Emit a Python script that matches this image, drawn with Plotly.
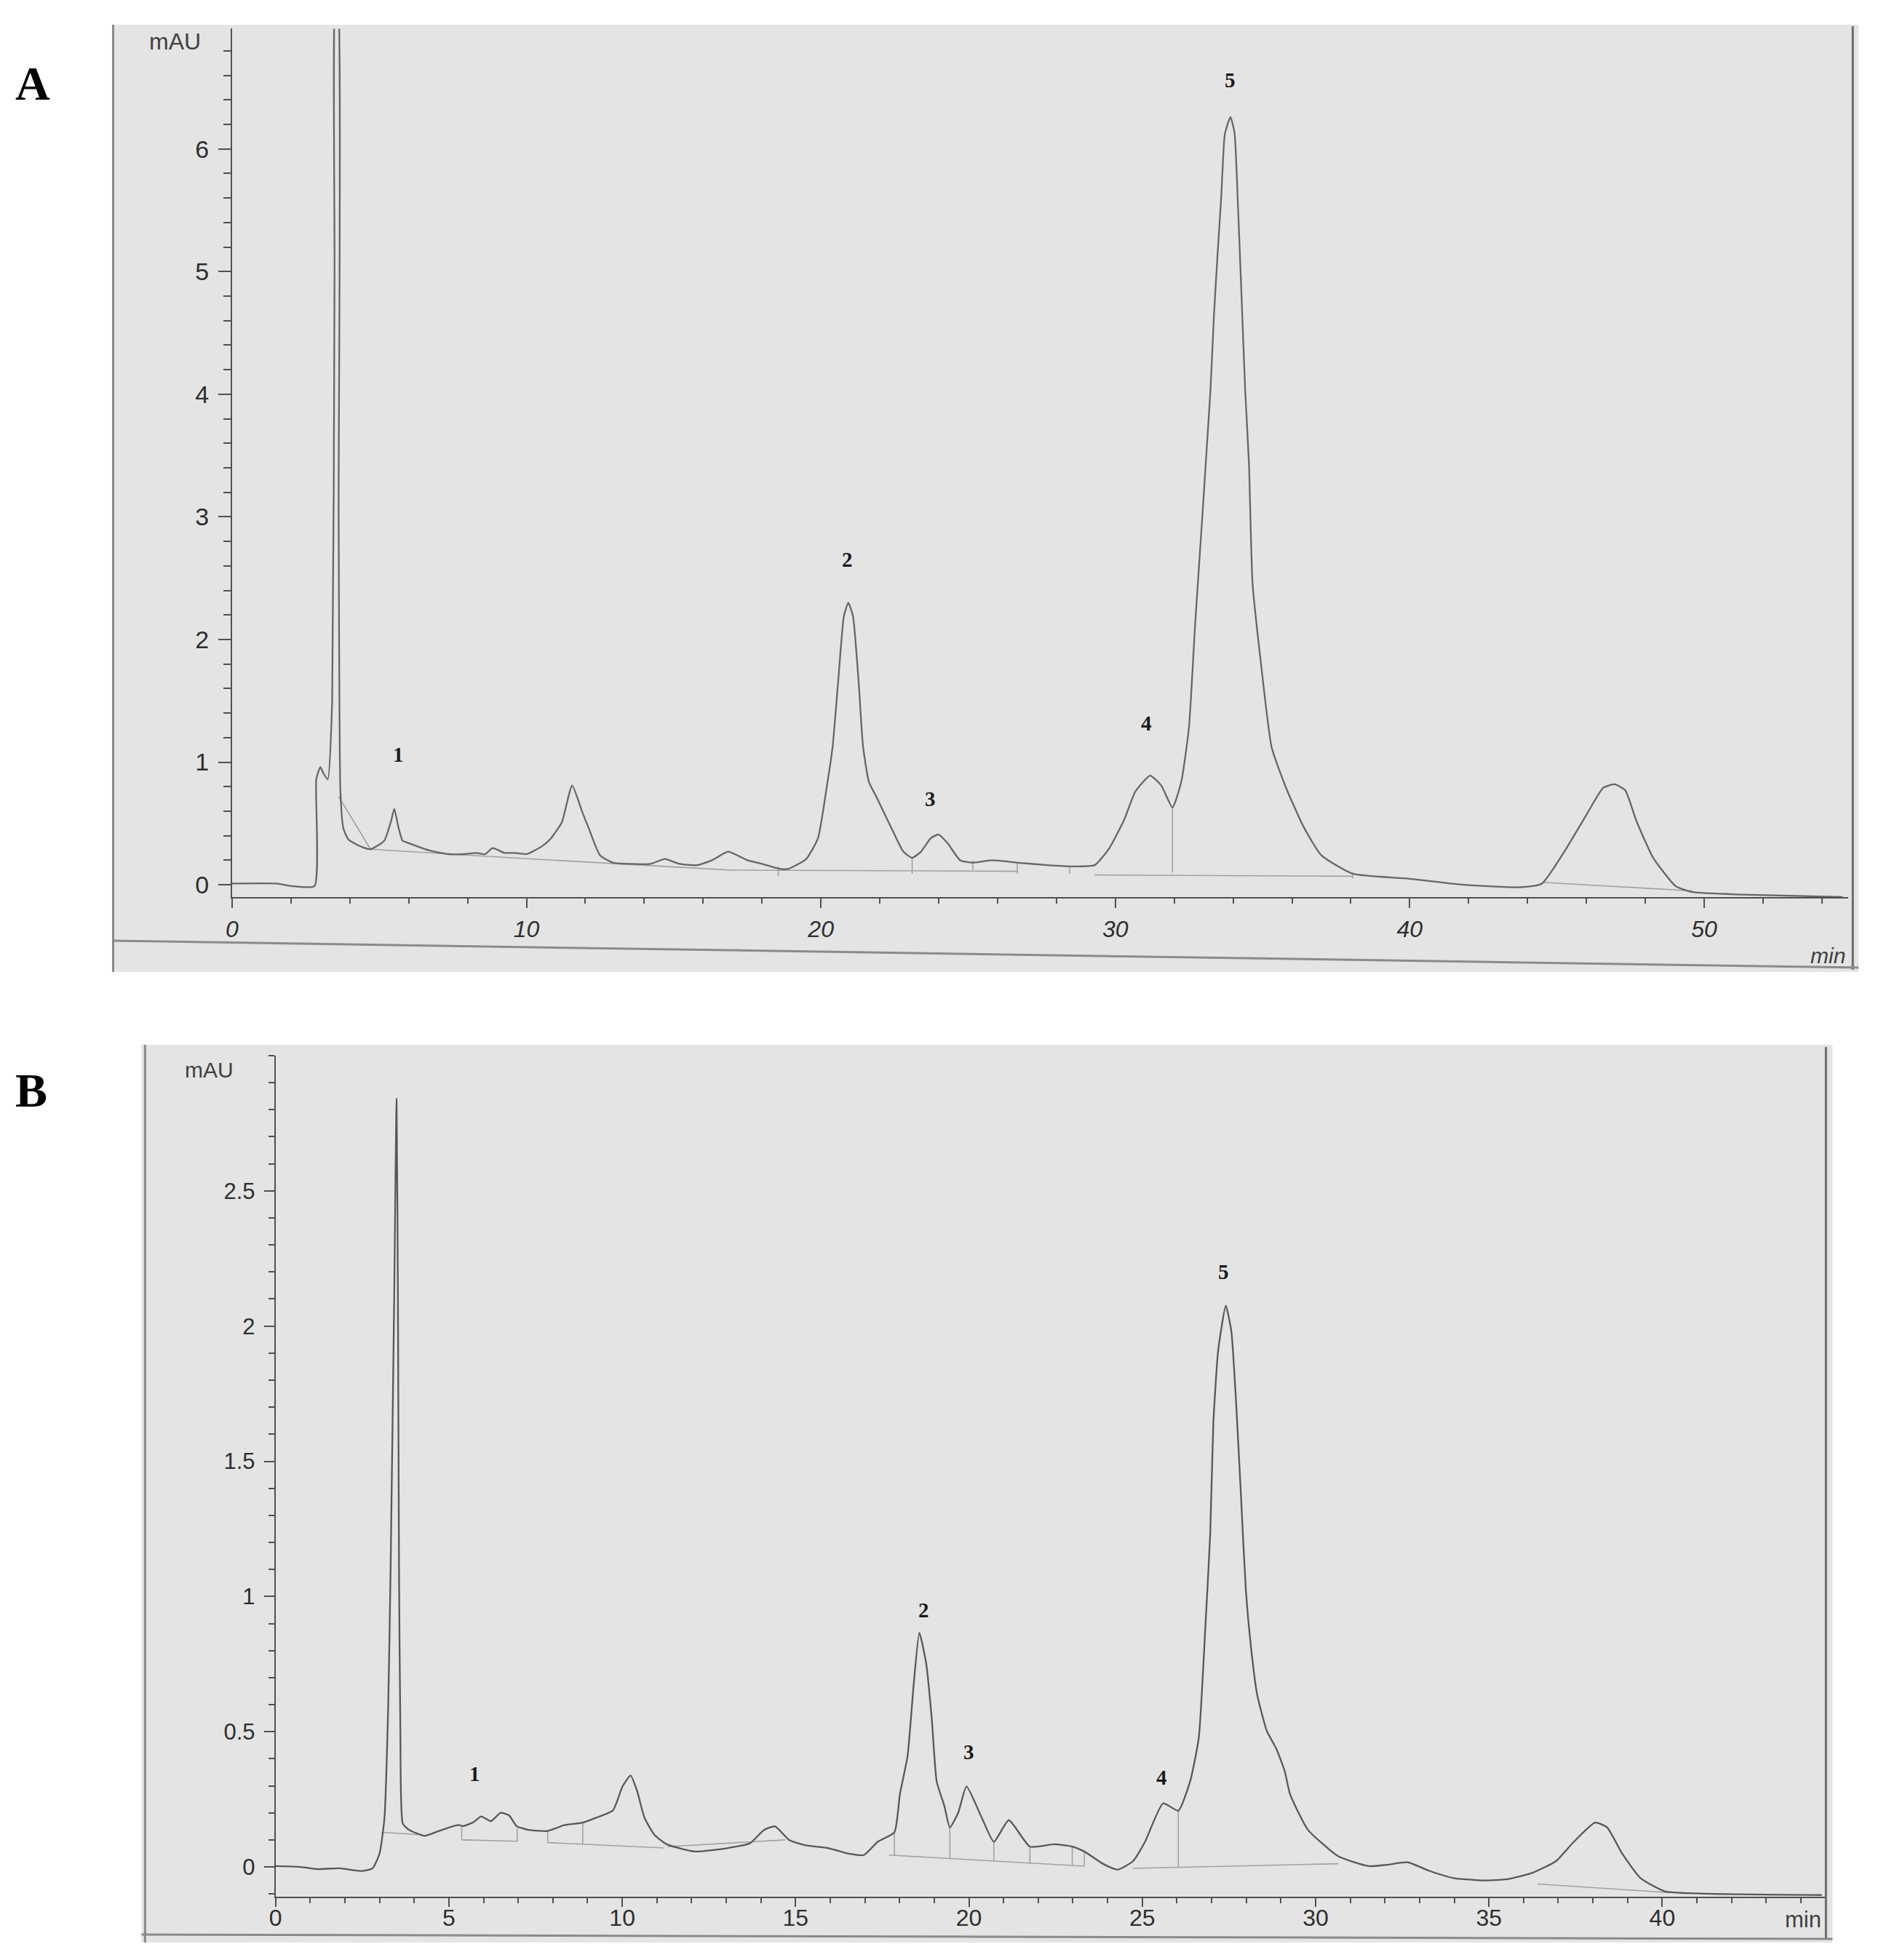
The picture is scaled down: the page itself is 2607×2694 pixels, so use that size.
import plotly.graph_objects as go

# ---------------- Panel A data (time in min, absorbance in mAU) ----------------
a_time = [0.0, 1.5, 2.0, 2.8, 2.86, 3.0, 3.1, 3.25, 3.4, 3.48, 3.52, 3.58, 3.62, 3.68, 3.78,
          3.95, 4.3, 4.7, 5.17, 5.4, 5.51, 5.65, 5.79, 6.0, 6.7, 7.35, 7.9, 8.3, 8.6, 8.85,
          9.25, 9.6, 10.0, 10.5, 10.8, 11.2, 11.55, 11.9, 12.1, 12.5, 12.95, 13.6, 14.2, 14.7,
          15.2, 15.8, 16.3, 16.85, 17.5, 18.0, 18.6, 18.9, 19.5, 19.9, 20.2, 20.4, 20.6, 20.78,
          20.93, 21.09, 21.28, 21.43, 21.63, 21.9, 22.4, 22.8, 23.1, 23.4, 23.73, 24.0, 24.3,
          24.73, 25.16, 25.8, 26.7, 27.7, 28.55, 29.3, 29.8, 30.3, 30.68, 31.18, 31.56, 31.94,
          32.24, 32.5, 32.71, 32.96, 33.1, 33.23, 33.35, 33.47, 33.6, 33.72, 33.91, 34.05,
          34.17, 34.29, 34.41, 34.54, 34.66, 34.94, 35.31, 35.8, 36.4, 37.0, 38.06, 39.95,
          41.84, 43.73, 44.49, 45.25, 46.0, 46.57, 46.95, 47.32, 47.7, 48.27, 49.03, 49.6,
          51.3, 54.7]
a_mau = [0.01, 0.01, -0.01, -0.01, 0.86, 0.96, 0.91, 0.86, 1.5, 5.0, 7.3, 7.3, 3.0, 0.76, 0.46,
         0.37, 0.32, 0.29, 0.36, 0.52, 0.62, 0.47, 0.36, 0.34, 0.28, 0.25, 0.25, 0.26, 0.25, 0.30,
         0.26, 0.26, 0.25, 0.31, 0.37, 0.51, 0.81, 0.59, 0.47, 0.24, 0.18, 0.17, 0.17, 0.21,
         0.17, 0.16, 0.20, 0.27, 0.20, 0.17, 0.13, 0.13, 0.21, 0.38, 0.80, 1.13, 1.70, 2.19,
         2.30, 2.19, 1.66, 1.13, 0.84, 0.71, 0.46, 0.27, 0.22, 0.27, 0.38, 0.41, 0.34,
         0.20, 0.18, 0.20, 0.18, 0.16, 0.15, 0.16, 0.30, 0.53, 0.76, 0.89, 0.81, 0.63,
         0.84, 1.28, 2.12, 3.02, 3.54, 4.03, 4.64, 5.13, 5.62, 6.12, 6.26, 6.13,
         5.51, 4.78, 4.04, 3.43, 2.46, 1.82, 1.12, 0.79, 0.47, 0.24, 0.09, 0.05,
         0.00, -0.02, 0.01, 0.27, 0.57, 0.79, 0.82, 0.77, 0.52, 0.22, -0.01, -0.06,
         -0.08, -0.10]

# integration baselines (segments separated by None)
a_base_t = [3.62, 4.7, None, 4.7, 10.2, 16.9, 26.7, None, 29.3, 38.06, None, 44.5, 49.6]
a_base_v = [0.72, 0.29, None, 0.29, 0.21, 0.12, 0.11, None, 0.08, 0.07, None, 0.02, -0.05]
# peak drop lines
a_drop_t = [18.55, 23.1, 25.16, 26.67, 28.45, 31.94, 38.06]
a_drop_top = [0.15, 0.22, 0.20, 0.18, 0.15, 0.64, 0.10]
a_drop_bot = [0.07, 0.09, 0.12, 0.09, 0.09, 0.10, 0.05]

a_peak_names = ["1", "2", "3", "4", "5"]
a_peak_t = [5.65, 20.9, 23.72, 31.05, 33.91]
a_peak_v = [1.06, 2.65, 0.70, 1.32, 6.56]

a_xticks = [0, 10, 20, 30, 40, 50]
a_yticks = [0, 1, 2, 3, 4, 5, 6]

# ---------------- Panel B data ----------------
b_time = [0.0, 0.72, 1.2, 1.84, 2.48, 2.8, 3.0, 3.14, 3.25, 3.32, 3.42, 3.49, 3.53, 3.56, 3.6,
          3.67, 3.85, 4.3, 4.71, 5.27, 5.41, 5.69, 5.93, 6.21, 6.49, 6.74, 6.95, 7.29, 7.85,
          8.34, 8.86, 9.25, 9.73, 10.01, 10.24, 10.43, 10.64, 10.92, 11.28, 12.09, 13.05,
          13.69, 14.09, 14.41, 14.81, 15.29, 15.93, 16.57, 16.97, 17.37, 17.85, 18.01, 18.23,
          18.41, 18.57, 18.77, 18.93, 19.07, 19.29, 19.45, 19.69, 19.93, 20.37, 20.72, 21.15,
          21.76, 22.46, 22.98, 23.33, 23.86, 24.29, 24.73, 25.08, 25.6, 26.04, 26.38, 26.63,
          26.82, 26.96, 27.05, 27.19, 27.41, 27.57, 27.71, 27.85, 27.99, 28.13, 28.31, 28.59,
          28.87, 29.11, 29.26, 29.78, 30.66, 31.53, 32.05, 32.66, 33.27, 33.97, 34.84, 35.54,
          36.23, 36.93, 37.45, 38.06, 38.41, 38.85, 39.37, 40.07, 41.29, 44.6]
b_mau = [0.003, 0.0, -0.008, -0.005, -0.015, -0.005, 0.05, 0.18, 0.6, 1.12, 2.09, 2.84, 2.09,
         1.12, 0.5, 0.16, 0.137, 0.115, 0.133, 0.155, 0.151, 0.164, 0.187, 0.169, 0.200, 0.19,
         0.151, 0.137, 0.133, 0.155, 0.164, 0.182, 0.209, 0.298, 0.338, 0.28, 0.182, 0.12,
         0.084, 0.057, 0.07, 0.088, 0.137, 0.15, 0.1, 0.08, 0.07, 0.048, 0.044, 0.093, 0.128,
         0.27, 0.41, 0.68, 0.866, 0.75, 0.545, 0.316, 0.226, 0.146, 0.2, 0.298, 0.182, 0.093,
         0.173, 0.075, 0.084, 0.075, 0.057, 0.012, -0.01, 0.021, 0.093, 0.235, 0.208, 0.316,
         0.477, 0.887, 1.23, 1.64, 1.91, 2.075, 1.98, 1.71, 1.365, 1.02, 0.82, 0.64, 0.504,
         0.436, 0.354, 0.27, 0.137, 0.039, 0.003, 0.008, 0.017, -0.014, -0.041, -0.05, -0.045,
         -0.023, 0.021, 0.093, 0.164, 0.146, 0.048, -0.041, -0.09, -0.099, -0.104]

b_base_t = [3.05, 4.1, None, 5.37, 6.97, None, 7.85, 11.2, None, 11.3, 14.7, None,
            17.69, 23.33, None, 24.73, 30.66, None, 36.4, 40.2]
b_base_v = [0.128, 0.12, None, 0.10, 0.095, None, 0.09, 0.07, None, 0.075, 0.10, None,
            0.044, 0.003, None, -0.005, 0.012, None, -0.063, -0.095]
b_drop_t = [5.37, 6.97, 7.85, 8.86, 17.85, 19.45, 20.72, 21.76, 22.98, 23.33, 26.04]
b_drop_top = [0.151, 0.142, 0.133, 0.164, 0.128, 0.146, 0.093, 0.075, 0.075, 0.057, 0.208]
b_drop_bot = [0.100, 0.095, 0.090, 0.085, 0.040, 0.030, 0.020, 0.012, 0.006, 0.003, -0.003]

b_peak_names = ["1", "2", "3", "4", "5"]
b_peak_t = [5.75, 18.69, 20.0, 25.56, 27.34]
b_peak_v = [0.345, 0.95, 0.425, 0.33, 2.20]

b_xticks = [0, 5, 10, 15, 20, 25, 30, 35, 40]
b_yticks = [0, 0.5, 1, 1.5, 2, 2.5]

# ---------------- Figure ----------------
W, H = 2607, 2694
PANEL_BG = "#e4e4e4"
AXIS = "#505050"
BASE = "#a2a2a2"
SANS = "Liberation Sans, Arial, Helvetica, sans-serif"
SERIF = "Liberation Serif, Times New Roman, serif"


def drops(ts, tops, bots):
    xs, ys = [], []
    for t, a, b in zip(ts, tops, bots):
        xs += [t, t, None]
        ys += [a, b, None]
    return xs, ys


fig = go.Figure()

# Panel A traces
fig.add_trace(go.Scatter(x=a_base_t, y=a_base_v, mode="lines", xaxis="x", yaxis="y",
                         line=dict(color=BASE, width=1.6), hoverinfo="skip"))
dx, dy = drops(a_drop_t, a_drop_top, a_drop_bot)
fig.add_trace(go.Scatter(x=dx, y=dy, mode="lines", xaxis="x", yaxis="y",
                         line=dict(color=BASE, width=1.6), hoverinfo="skip"))
fig.add_trace(go.Scatter(x=a_time, y=a_mau, mode="lines", xaxis="x", yaxis="y",
                         line=dict(color="#666666", width=2.3, shape="spline", smoothing=0.5)))

# Panel B traces
fig.add_trace(go.Scatter(x=b_base_t, y=b_base_v, mode="lines", xaxis="x2", yaxis="y2",
                         line=dict(color=BASE, width=1.6), hoverinfo="skip"))
dx, dy = drops(b_drop_t, b_drop_top, b_drop_bot)
fig.add_trace(go.Scatter(x=dx, y=dy, mode="lines", xaxis="x2", yaxis="y2",
                         line=dict(color=BASE, width=1.6), hoverinfo="skip"))
fig.add_trace(go.Scatter(x=b_time, y=b_mau, mode="lines", xaxis="x2", yaxis="y2",
                         line=dict(color="#585858", width=2.3, shape="spline", smoothing=0.5)))

annotations = []
for name, t, v in zip(a_peak_names, a_peak_t, a_peak_v):
    annotations.append(dict(x=t, y=v, xref="x", yref="y", text="<b>%s</b>" % name,
                            showarrow=False,
                            font=dict(family=SERIF, size=29, color="#1a1a1a")))
for name, t, v in zip(b_peak_names, b_peak_t, b_peak_v):
    annotations.append(dict(x=t, y=v, xref="x2", yref="y2", text="<b>%s</b>" % name,
                            showarrow=False,
                            font=dict(family=SERIF, size=29, color="#1a1a1a")))


def pa(px, py, text, size, family=SANS, style="normal", color="#404040"):
    return dict(x=px / W, y=1 - py / H, xref="paper", yref="paper", text=text,
                showarrow=False, xanchor="center", yanchor="middle",
                font=dict(family=family, size=size, color=color, style=style))


annotations += [
    pa(36, 115, "<b>A</b>", 66, family=SERIF, color="#000000"),
    pa(34, 1500, "<b>B</b>", 66, family=SERIF, color="#000000"),
    pa(232, 57, "mAU", 32),
    pa(279, 1472, "mAU", 30),
    pa(2512, 1314, "min", 30, style="italic"),
    pa(2478, 2640, "min", 31),
]


def pline(x0, y0, x1, y1, color="#7a7a7a", width=3):
    return dict(type="line", xref="paper", yref="paper", x0=x0 / W, y0=1 - y0 / H,
                x1=x1 / W, y1=1 - y1 / H, line=dict(color=color, width=width), layer="below")


shapes = [
    dict(type="rect", xref="paper", yref="paper", x0=146 / W, x1=2554 / W,
         y0=1 - 1337 / H, y1=1 - 34 / H, fillcolor=PANEL_BG, line=dict(width=0), layer="below"),
    dict(type="rect", xref="paper", yref="paper", x0=186 / W, x1=2518 / W,
         y0=1 - 2672 / H, y1=1 - 1437 / H, fillcolor=PANEL_BG, line=dict(width=0), layer="below"),
    pline(147, 34, 147, 1337, color="#8a8a8a"),
    pline(2546, 36, 2546, 1334, color="#6a6a6a"),
    pline(146, 1294, 2554, 1331, color="#8a8a8a"),
    pline(191, 1437, 191, 2672, color="#8a8a8a"),
    pline(2509, 1440, 2509, 2668, color="#6a6a6a"),
    pline(186, 2661, 2518, 2667, color="#8a8a8a"),
]


def axis_common(size, italic=False):
    return dict(showline=True, linecolor=AXIS, linewidth=2, showgrid=False, zeroline=False,
                ticks="outside", tickcolor=AXIS, tickwidth=2,
                tickfont=dict(family=SANS, size=size, color="#2e2e2e",
                              style="italic" if italic else "normal"),
                fixedrange=True)


xa = axis_common(32, italic=True)
xa.update(domain=[311 / W, 2540 / W], range=[0, 54.9], anchor="y", tickmode="array",
          tickvals=a_xticks, ticklen=13, ticklabelstandoff=2,
          minor=dict(ticks="outside", dtick=2, tick0=0, ticklen=7, tickwidth=1.5,
                     tickcolor=AXIS, showgrid=False))
ya = axis_common(34)
ya.update(domain=[1 - 1233.9 / H, 1 - 39.5 / H], range=[-0.10, 6.98], anchor="x",
          tickmode="array", tickvals=a_yticks, ticklen=17, ticklabelstandoff=6,
          minor=dict(ticks="outside", dtick=0.2, tick0=0, ticklen=10, tickwidth=1.5,
                     tickcolor=AXIS, showgrid=False))
xb = axis_common(32)
xb.update(domain=[371 / W, 2508 / W], range=[0, 44.7], anchor="y2", tickmode="array",
          tickvals=b_xticks, ticklen=12, ticklabelstandoff=-12,
          minor=dict(ticks="outside", dtick=1, tick0=0, ticklen=7, tickwidth=1.5,
                     tickcolor=AXIS, showgrid=False))
yb = axis_common(31)
yb.update(domain=[1 - 2608.9 / H, 1 - 1452 / H], range=[-0.11, 3.0], anchor="x2",
          tickmode="array", tickvals=b_yticks, ticklen=14, ticklabelstandoff=6,
          minor=dict(ticks="outside", dtick=0.1, tick0=0, ticklen=8, tickwidth=1.5,
                     tickcolor=AXIS, showgrid=False))

fig.update_layout(
    width=W, height=H, margin=dict(l=0, r=0, t=0, b=0),
    paper_bgcolor="white", plot_bgcolor="rgba(0,0,0,0)",
    showlegend=False,
    xaxis=xa, yaxis=ya, xaxis2=xb, yaxis2=yb,
    annotations=annotations, shapes=shapes,
)

fig.write_html("out.html", config={"displayModeBar": False},
               post_script="document.body.style.margin='0';"
                           "document.body.style.overflow='hidden';")
